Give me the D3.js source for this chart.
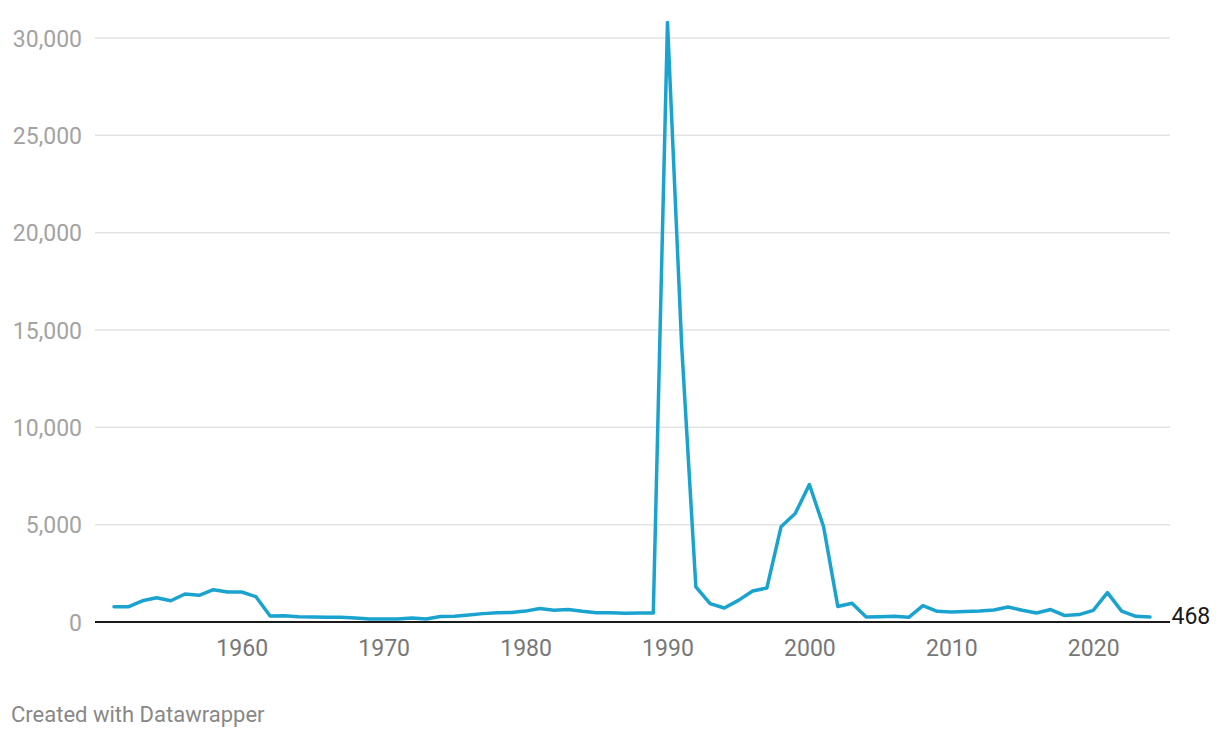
<!DOCTYPE html>
<html>
<head>
<meta charset="utf-8">
<script src="https://cdn.jsdelivr.net/npm/d3@7"></script>
<style>
  html, body { margin: 0; padding: 0; background: #fff; }
  svg { display: block; font-family: Roboto, "Noto Sans", sans-serif; }
</style>
</head>
<body>
<svg id="chart" width="1220" height="738"></svg>
<script>
const years = [1951,1952,1953,1954,1955,1956,1957,1958,1959,1960,
  1961,1962,1963,1964,1965,1966,1967,1968,1969,1970,
  1971,1972,1973,1974,1975,1976,1977,1978,1979,1980,
  1981,1982,1983,1984,1985,1986,1987,1988,1989,1990,
  1991,1992,1993,1994,1995,1996,1997,1998,1999,2000,
  2001,2002,2003,2004,2005,2006,2007,2008,2009,2010,
  2011,2012,2013,2014,2015,2016,2017,2018,2019,2020,
  2021,2022,2023,2024];
const values = [780,780,1090,1250,1090,1440,1370,1660,1540,1540,
  1300,310,320,270,260,250,240,200,160,150,
  160,200,150,280,290,360,430,480,490,560,
  690,600,640,550,480,480,450,460,460,30800,
  14200,1800,945,720,1110,1590,1745,4890,5570,7060,
  4890,800,960,260,270,290,240,840,550,520,
  540,570,620,770,600,460,640,330,380,600,
  1510,560,290,260];
const yTicks = [0,5000,10000,15000,20000,25000,30000];
const xTicks = [1960,1970,1980,1990,2000,2010,2020];
const endLabel = "468";
const credit = "Created with Datawrapper";

const svg = d3.select("#chart");
const x = d3.scaleLinear().domain([1951, 2024]).range([114, 1150]);
const y = d3.scaleLinear().domain([0, 30000]).range([622, 38]);
const gridX0 = 95, gridX1 = 1170;

// y axis labels
const yAxis = d3.axisLeft(y).tickValues(yTicks).tickFormat(d3.format(","))
  .tickSize(0).tickPadding(0);
const gy = svg.append("g").attr("transform", "translate(82,0)").call(yAxis);
gy.select(".domain").remove();
gy.selectAll("text").attr("font-size", 23).attr("fill", "#a3a3a3")
  .attr("font-family", "Roboto").attr("dy", "0.35em").attr("x", 0);

// gridlines
svg.append("g").selectAll("line")
  .data(yTicks.filter(d => d !== 0))
  .join("line")
  .attr("x1", gridX0).attr("x2", gridX1)
  .attr("y1", d => y(d)).attr("y2", d => y(d))
  .attr("stroke", "#e3e3e3").attr("stroke-width", 1.5);

// x axis labels
const xAxis = d3.axisBottom(x).tickValues(xTicks).tickFormat(d3.format("d"))
  .tickSize(0).tickPadding(0);
const gx = svg.append("g").attr("transform", "translate(0,656)").call(xAxis);
gx.select(".domain").remove();
gx.selectAll("text").attr("font-size", 23).attr("fill", "#777")
  .attr("font-family", "Roboto").attr("dy", 0).attr("y", 0);

// baseline
svg.append("line")
  .attr("x1", gridX0).attr("x2", gridX1)
  .attr("y1", y(0)).attr("y2", y(0))
  .attr("stroke", "#1a1a1a").attr("stroke-width", 2.2);

// line
const data = years.map((yr, i) => ({ yr, v: values[i] }));
const line = d3.line().x(d => x(d.yr)).y(d => y(d.v));
svg.append("path")
  .datum(data)
  .attr("d", line)
  .attr("fill", "none")
  .attr("stroke", "#1ba3d0")
  .attr("stroke-width", 3.5)
  .attr("stroke-linejoin", "round")
  .attr("stroke-linecap", "round");

// end label
svg.append("text")
  .attr("x", gridX1 + 1.5).attr("y", y(0) + 2)
  .attr("font-size", 23).attr("fill", "#1a1a1a")
  .text(endLabel);

// credit
svg.append("text")
  .attr("x", 11).attr("y", 722)
  .attr("font-size", 22).attr("fill", "#888")
  .text(credit);
</script>
</body>
</html>
